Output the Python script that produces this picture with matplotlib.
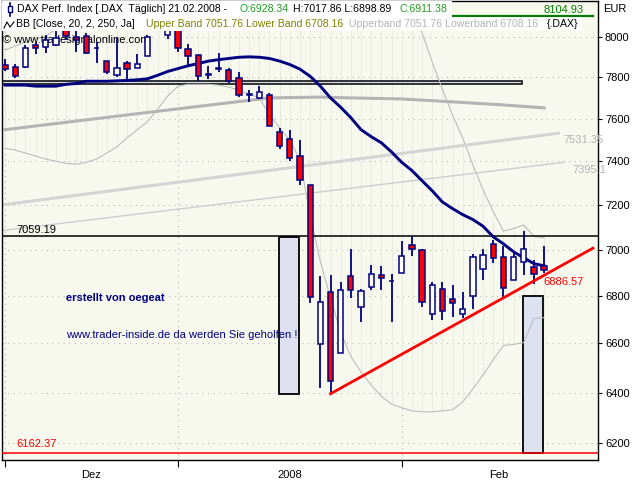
import matplotlib
matplotlib.use("Agg")
import matplotlib.pyplot as plt
from matplotlib.patches import Rectangle
from matplotlib.lines import Line2D
from matplotlib.ticker import FixedLocator, FixedFormatter, NullLocator

plt.rcParams['font.family'] = ['Liberation Sans', 'DejaVu Sans']
plt.rcParams['font.size'] = 8

# DAX daily candles 03.12.2007 - 21.02.2008
opens = [7862, 7852, 7852, 7960, 7948, 7962, 8045, 8000, 8005, 7946,
         7880, 7812, 7870, 7845, 7905, 8060, 8010, 8045, 7940, 7910,
         7818, 7842, 7835, 7795, 7718, 7700, 7715, 7535, 7505, 7425,
         7290, 6596, 6815, 6560, 6885, 6755, 6840, 6890, 6865, 6898,
         7020, 7000, 6725, 6830, 6785, 6723, 6800, 6915, 7025, 6968,
         6868, 6948, 6925, 6928.34]
highs = [7890, 7864, 7960, 7977, 8010, 8035, 8060, 8060, 8020, 7975,
         7882, 7995, 7880, 7915, 8010, 8104.93, 8060, 8060, 7965, 7910,
         7855, 7920, 7845, 7825, 7740, 7760, 7725, 7555, 7545, 7500,
         7290, 6885, 6890, 6860, 7005, 6830, 6935, 6930, 6895, 7040,
         7060, 7003, 6860, 6858, 6845, 6815, 6982, 7005, 7045, 7015,
         6993, 7085, 6955, 7017.86]
lows = [7830, 7795, 7845, 7915, 7920, 7955, 7985, 7925, 7915, 7870,
        7815, 7800, 7785, 7845, 7905, 8040, 7990, 7925, 7855, 7780,
        7790, 7825, 7770, 7705, 7680, 7695, 7565, 7455, 7400, 7290,
        6770, 6420, 6395, 6560, 6790, 6690, 6825, 6825, 6690, 6898,
        6972, 6755, 6700, 6700, 6712, 6705, 6745, 6870, 6940, 6795,
        6868, 6890, 6850, 6898.89]
closes = [7840, 7806, 7943, 7945, 7985, 7995, 8005, 7985, 7920, 7944,
          7825, 7848, 7842, 7868, 8000, 8085, 8044, 7945, 7905, 7805,
          7812, 7846, 7780, 7715, 7713, 7730, 7565, 7470, 7415, 7315,
          6795, 6775, 6445, 6825, 6825, 6820, 6895, 6878, 6863, 6972,
          7002, 6775, 6848, 6735, 6772, 6743, 6968, 6975, 6965, 6835,
          6968, 7003, 6895, 6911.38]

# navy moving average
ma_line = [7762, 7762, 7762, 7757, 7757, 7757, 7766, 7770, 7781, 7781,
           7781, 7783, 7785, 7788, 7793, 7810, 7829, 7843, 7857, 7868,
           7880, 7887, 7893, 7899, 7901, 7899, 7893, 7880, 7863, 7840,
           7805, 7757, 7700, 7655, 7605, 7548, 7515, 7486, 7443, 7395,
           7357, 7310, 7264, 7213, 7183, 7156, 7134, 7104, 7057, 7026,
           6991, 6965, 6939, 6930]

# Bollinger bands (20, 2)
bb_upper = [7935, 7955, 7975, 7990, 8003, 8040, 8080, 8110, 8130, 8140,
            8150, 8150, 8150, 8150, 8150, 8160, 8170, 8170, 8165, 8160,
            8160, 8160, 8160, 8165, 8170, 8175, 8190, 8210, 8240, 8270,
            8310, 8340, 8370, 8390, 8400, 8400, 8395, 8385, 8360, 8302,
            8162, 8020, 7876, 7742, 7617, 7510, 7382, 7268, 7169, 7083,
            7094, 7110, 7060, 7051.76]
bb_lower = [7460, 7452, 7438, 7424, 7410, 7400, 7390, 7386, 7395, 7410,
            7438, 7467, 7510, 7548, 7586, 7645, 7710, 7757, 7766, 7766,
            7766, 7762, 7752, 7738, 7719, 7700, 7620, 7557, 7500, 7405,
            7152, 6948, 6792, 6646, 6546, 6483, 6430, 6385, 6354, 6339,
            6327, 6323, 6323, 6327, 6331, 6362, 6415, 6471, 6533, 6592,
            6596, 6604, 6705, 6708.16]

# 250 day average (knots)
ma250_idx = [0, 13, 26, 31, 34, 39, 44, 49, 53]
ma250_val = [7548, 7624, 7700, 7704, 7700, 7695, 7681, 7666, 7652]

# drawn lines and levels
trend_thick = ([-0.3, 54.4], [7200, 7531.35])
trend_thin = ([-0.3, 55.0], [7085, 7395.1])
trend_red = ([32, 57.8], [6395, 7007])
level_black = 7059.19
level_red = 6162.37
level_green = 8104.93
box_band = (-0.3, 50.8, 7767, 7782)
boxes = [(26.9, 28.9, 6395, 7055), (50.9, 52.9, 6162.37, 6800)]
trend_value = 6886.57

month_ticks = [0, 17, 39]
month_pos = [8.5, 28, 48.5]
month_labels = ['Dez', '2008', 'Feb']
price_ticks = [6200, 6400, 6600, 6800, 7000, 7200, 7400, 7600, 7800, 8000]

navy = '#000080'
bg = '#F7F9EE'

fig = plt.figure(figsize=(6.4, 4.8), dpi=100)
W, H = 640.0, 480.0
def fx(x): return x / W
def fy(y): return 1 - y / H

ax = fig.add_axes([fx(2), fy(460), 596 / W, 459 / H])
ax.set_facecolor(bg)
ax.set_yscale('log')
ax.set_xlim(-0.3, 58.3)
ax.set_ylim(6134.6, 8182.9)

idx = list(range(len(closes)))

# band stripes
ax.vlines(idx, bb_lower, bb_upper, color='#E9EBE0', lw=0.7, zorder=0.8)

# grid
for p in price_ticks:
    ax.axhline(p, color='#B8B8B8', lw=0.8, ls=(0, (1, 4)), zorder=0.5)
for m in month_ticks:
    ax.axvline(m, color='#B8B8B8', lw=0.8, ls=(0, (1, 4)), zorder=0.5)

# shaded boxes
for x0, x1, p0, p1 in boxes:
    ax.add_patch(Rectangle((x0, p0), x1 - x0, p1 - p0, facecolor='#DDE1F0',
                           edgecolor='black', lw=1.3, zorder=1.5))
x0, x1, p0, p1 = box_band
ax.add_patch(Rectangle((x0, p0), x1 - x0, p1 - p0, facecolor='#D8DBE4',
                       edgecolor='black', lw=1.1, zorder=1.6))

# lines
ax.plot(idx, bb_upper, color='#BDBDBD', lw=0.8, zorder=2)
ax.plot(idx, bb_lower, color='#BDBDBD', lw=0.8, zorder=2)
ax.plot(ma250_idx, ma250_val, color='#B4B4B4', lw=2.2, zorder=2)
ax.plot(trend_thick[0], trend_thick[1], color='#D4D4D4', lw=2.2, zorder=2)
ax.plot(trend_thin[0], trend_thin[1], color='#CDCDCD', lw=1.0, zorder=2)
ax.axhline(level_black, color='black', lw=1.1, zorder=3)
ax.axhline(level_red, color='#FF0000', lw=1.1, zorder=3)
ax.plot([15, 57.8], [level_green, level_green], color='#008000', lw=1.6, zorder=3)
ax.plot(idx, ma_line, color=navy, lw=2.1, zorder=3.2)

# candles
for i in idx:
    o, h, l, c = opens[i], highs[i], lows[i], closes[i]
    ax.vlines(i, l, h, color=navy, lw=1.3, zorder=4)
    lo, hi = min(o, c), max(o, c)
    if hi - lo < 0.0004 * lo:
        hi = lo * 1.0004
    col = '#FF0000' if c < o else '#FFFFF4'
    ax.bar(i, hi - lo, bottom=lo, width=0.52, color=col, edgecolor=navy,
           lw=1.1, zorder=4.2)

ax.plot(trend_red[0], trend_red[1], color='#FF0000', lw=2.0, zorder=5)

# axes styling
for s in ax.spines.values():
    s.set_color('black')
    s.set_linewidth(1.0)
ax.yaxis.tick_right()
ax.yaxis.set_major_locator(FixedLocator(price_ticks))
ax.yaxis.set_major_formatter(FixedFormatter([str(p) for p in price_ticks]))
ax.yaxis.set_minor_locator(NullLocator())
ax.tick_params(axis='y', which='major', direction='out', length=3, width=0.8,
               pad=2, labelsize=8)
ax.xaxis.set_major_locator(FixedLocator(month_ticks))
ax.xaxis.set_major_formatter(FixedFormatter(['', '', '']))
ax.xaxis.set_minor_locator(FixedLocator(month_pos))
ax.xaxis.set_minor_formatter(FixedFormatter(month_labels))
ax.tick_params(axis='x', which='major', direction='out', length=5, width=0.8)
ax.tick_params(axis='x', which='minor', length=0, pad=7, labelsize=8)

# value labels in plot
fig.text(fx(16), fy(230), '%.2f' % level_black, color='black', va='center', fontsize=8)
fig.text(fx(16), fy(444), '%.2f' % level_red, color='#FF0000', va='center', fontsize=8)
fig.text(fx(543), fy(282), '%.2f' % trend_value, color='#FF0000', va='center', fontsize=8)
fig.text(fx(563), fy(140), '7531.35', color='#B4B4B4', va='center', fontsize=8)
fig.text(fx(572), fy(170), '7395.1', color='#B4B4B4', va='center', fontsize=8)
fig.text(fx(66), fy(298), 'erstellt von oegeat', color=navy, va='center',
         fontsize=8, fontweight='bold')
fig.text(fx(66), fy(335), 'www.trader-inside.de da werden Sie geholfen !',
         color=navy, va='center', fontsize=8)
fig.text(fx(603), fy(9), 'EUR', color='black', va='center', fontsize=8)
fig.text(fx(543), fy(10), '%.2f' % level_green, color='#008000', va='center', fontsize=8)

# header boxes
fig.add_artist(Rectangle((fx(2), fy(16.5)), 450 / W, 15.5 / H, transform=fig.transFigure,
                         facecolor='white', edgecolor='none', zorder=10))
fig.add_artist(Rectangle((fx(2), fy(31)), 580 / W, 14.5 / H, transform=fig.transFigure,
                         facecolor='white', edgecolor='none', zorder=10))
fig.add_artist(Line2D([fx(10), fx(10)], [fy(3), fy(16)], color=navy, lw=1.2, zorder=11))
fig.add_artist(Rectangle((fx(8), fy(12)), 4 / W, 6 / H, transform=fig.transFigure,
                         facecolor='white', edgecolor=navy, lw=1.0, zorder=12))
fig.add_artist(Line2D([fx(4), fx(7), fx(10), fx(14)], [fy(28), fy(22), fy(27), fy(22)],
                      color='black', lw=0.8, zorder=11))

hdr = [
    (17, 9, 'DAX Perf. Index [.DAX  T\u00e4glich] 21.02.2008 - ', 'black'),
    (240, 9, 'O:%.2f' % opens[-1], '#1EA01E'),
    (293, 9, 'H:%.2f L:%.2f' % (highs[-1], lows[-1]), 'black'),
    (399, 9, 'C:%.2f' % closes[-1], '#1EA01E'),
    (16, 24, 'BB [Close, 20, 2, 250, Ja]', 'black'),
    (146, 24, 'Upper Band %.2f Lower Band %.2f' % (bb_upper[-1], bb_lower[-1]), '#808000'),
    (349, 24, 'Upperband %.2f Lowerband %.2f' % (bb_upper[-1], bb_lower[-1]), '#B4B4B4'),
    (547, 24, '{.DAX}', 'black'),
]
for x, y, t, c in hdr:
    fig.text(fx(x), fy(y), t, color=c, va='center', fontsize=7.6, zorder=12)

ax.text(fx(3), fy(40), '\u00a9 www.tradesignalonline.com', transform=fig.transFigure,
        color='black', va='center', fontsize=8, zorder=3.5)

fig.savefig('out.png', dpi=100, facecolor='white')
